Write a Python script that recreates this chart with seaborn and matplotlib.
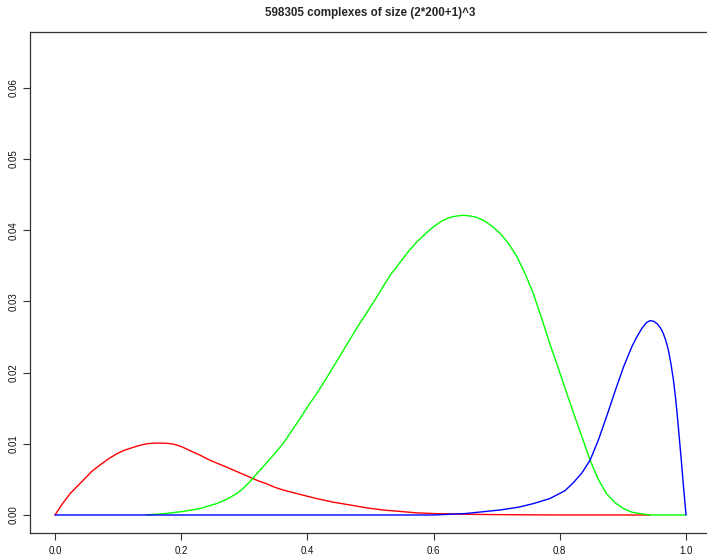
import matplotlib
matplotlib.use("Agg")
import matplotlib.pyplot as plt
import seaborn as sns
import pandas as pd

title = "598305 complexes of size (2*200+1)^3"

red_x = [0, 0.006, 0.012, 0.024, 0.035, 0.045, 0.058, 0.071, 0.085, 0.098, 0.110, 0.124,
         0.135, 0.145, 0.155, 0.166, 0.175, 0.185, 0.194, 0.203, 0.215, 0.230, 0.243,
         0.256, 0.270, 0.283, 0.296, 0.309, 0.322, 0.335, 0.348, 0.362, 0.375, 0.388,
         0.415, 0.441, 0.468, 0.494, 0.520, 0.547, 0.573, 0.600, 0.626, 0.650, 0.700,
         0.800, 0.943]
red_y = [0, 0.0008, 0.0016, 0.0030, 0.0040, 0.0049, 0.0061, 0.0070, 0.0079, 0.0086, 0.0091, 0.0095,
         0.0098, 0.0100, 0.01008, 0.0101, 0.01008, 0.0100, 0.0098, 0.0095, 0.0090, 0.0084, 0.0078,
         0.0073, 0.0068, 0.0063, 0.0058, 0.0053, 0.0048, 0.0044, 0.0039, 0.0035, 0.0032, 0.0029,
         0.0023, 0.0018, 0.0014, 0.0010, 0.0007, 0.0005, 0.0003, 0.0002, 0.00015, 0.0001, 0.00005,
         0.0, 0.0]

green_x = [0.145, 0.175, 0.203, 0.230, 0.256, 0.272, 0.288, 0.299, 0.309, 0.322, 0.335, 0.348,
           0.362, 0.375, 0.388, 0.401, 0.415, 0.428, 0.441, 0.454, 0.467, 0.480, 0.494, 0.507,
           0.520, 0.533, 0.547, 0.560, 0.573, 0.587, 0.600, 0.613, 0.626, 0.637, 0.647, 0.658,
           0.668, 0.679, 0.692, 0.705, 0.718, 0.732, 0.745, 0.758, 0.771, 0.784, 0.795, 0.808,
           0.821, 0.835, 0.848, 0.861, 0.874, 0.888, 0.901, 0.914, 0.927, 0.943, 1.0]
green_y = [0, 0.0002, 0.0005, 0.0009, 0.0016, 0.0022, 0.0030, 0.0038, 0.0047, 0.0060, 0.0073, 0.0086,
           0.0101, 0.0118, 0.0135, 0.0153, 0.0171, 0.0189, 0.0208, 0.0227, 0.0246, 0.0265, 0.0284, 0.0302,
           0.0321, 0.0339, 0.0355, 0.0370, 0.0383, 0.0395, 0.0405, 0.0413, 0.0418, 0.0420, 0.0421, 0.0420,
           0.0418, 0.0414, 0.0406, 0.0396, 0.0382, 0.0363, 0.0339, 0.0311, 0.0277, 0.0241, 0.0213, 0.0179,
           0.0145, 0.0110, 0.0077, 0.0050, 0.0030, 0.0017, 0.0009, 0.0004, 0.0002, 0.0, 0.0]

blue_x = [0, 0.600, 0.650, 0.705, 0.735, 0.758, 0.784, 0.808, 0.821, 0.835, 0.848, 0.861,
          0.874, 0.888, 0.901, 0.914, 0.922, 0.930, 0.937, 0.943, 0.949, 0.955, 0.960,
          0.964, 0.968, 0.972, 0.976, 0.980, 0.984, 0.987, 0.990, 0.993, 0.996, 1.0]
blue_y = [0, 0, 0.0002, 0.0007, 0.0011, 0.0016, 0.0023, 0.0034, 0.0045, 0.0059, 0.0077, 0.0105,
          0.0138, 0.0175, 0.0208, 0.0236, 0.0250, 0.0262, 0.0270, 0.0273, 0.0272, 0.0268, 0.0262,
          0.0255, 0.0245, 0.0232, 0.0213, 0.0190, 0.0160, 0.0132, 0.0102, 0.0072, 0.0040, 0.0]

x_ticks = [0.0, 0.2, 0.4, 0.6, 0.8, 1.0]
x_tick_labels = ["0.0", "0.2", "0.4", "0.6", "0.8", "1.0"]
y_ticks = [0.00, 0.01, 0.02, 0.03, 0.04, 0.05, 0.06]
y_tick_labels = ["0.00", "0.01", "0.02", "0.03", "0.04", "0.05", "0.06"]

sns.set_style("ticks")
plt.rcParams["font.family"] = ["Liberation Sans", "DejaVu Sans"]

W, H = 707, 556
fig = plt.figure(figsize=(W / 100, H / 100), dpi=100)
left, right, top, bottom = 30, 711, 32, 533
ax = fig.add_axes([left / W, (H - bottom) / H, (right - left) / W, (bottom - top) / H])

for xs, ys, col in [(red_x, red_y, "#FF0000"), (green_x, green_y, "#00FF00"), (blue_x, blue_y, "#0000FF")]:
    df = pd.DataFrame({"x": xs, "y": ys})
    sns.lineplot(data=df, x="x", y="y", color=col, linewidth=1.0, estimator=None, sort=False, ax=ax)

ax.set_xlim(-0.0396, 1.0396)
ax.set_ylim(-0.00253, 0.06784)
ax.set_xticks(x_ticks)
ax.set_xticklabels(x_tick_labels)
ax.set_yticks(y_ticks)
ax.set_yticklabels(y_tick_labels, rotation=90, va="center")
ax.set_xlabel("")
ax.set_ylabel("")
for s in ax.spines.values():
    s.set_color("#333333")
    s.set_linewidth(0.9)
ax.tick_params(axis="both", direction="out", length=5, width=0.8, color="#333333",
               labelsize=7, labelcolor="#111111")
ax.tick_params(axis="x", pad=4.0)
ax.tick_params(axis="y", pad=3.0)

fig.text(370 / W, 1 - 13 / H, title, ha="center", va="center", fontsize=8.4, fontweight="bold")

fig.savefig("out.png", dpi=100)
